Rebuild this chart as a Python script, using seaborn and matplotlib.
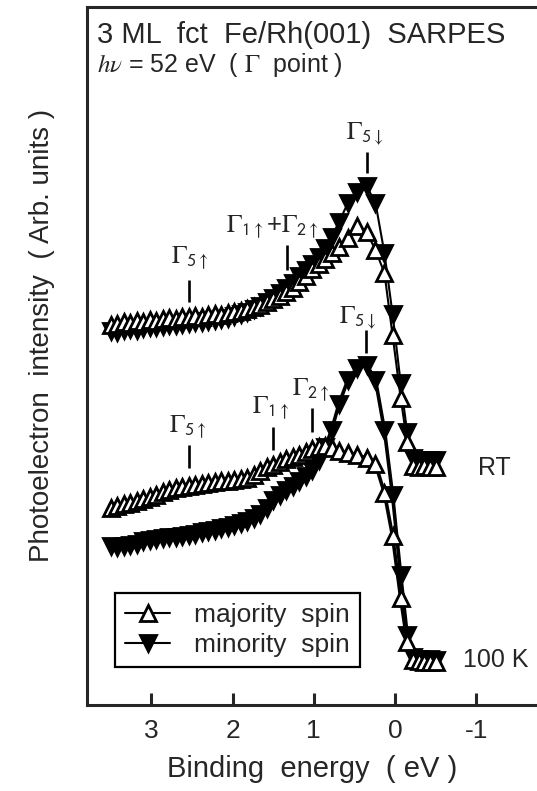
import matplotlib
matplotlib.use("Agg")
import matplotlib.pyplot as plt
from matplotlib.lines import Line2D
import seaborn as sns

sns.set_style("ticks")
plt.rcParams["font.family"] = ["Liberation Sans", "DejaVu Sans"]
plt.rcParams["mathtext.fontset"] = "stix"

# Binding energy grid (eV)
energy = [3.50, 3.42, 3.34, 3.26, 3.18, 3.10, 3.02, 2.94, 2.86, 2.78, 2.70, 2.62,
          2.54, 2.46, 2.38, 2.30, 2.22, 2.14, 2.06, 1.98, 1.90, 1.82, 1.74, 1.66,
          1.58, 1.50, 1.42, 1.34, 1.26, 1.18, 1.10, 1.02, 0.94, 0.86, 0.78, 0.69,
          0.58, 0.47, 0.35, 0.24, 0.13, 0.03, -0.07, -0.15, -0.22, -0.29, -0.36,
          -0.43, -0.50]

# Room-temperature spectra (offset upward)
rt_majority = [380, 381, 383, 382, 384, 383, 385, 384, 386, 387, 386, 388,
               388, 389, 388, 390, 391, 390, 392, 393, 394, 396, 398, 400,
               403, 406, 409, 413, 417, 423, 429, 436, 441, 446, 452, 458,
               467, 479, 473, 455, 432, 370, 307, 263, 239, 238, 239, 238, 238]
rt_minority = [374, 373, 375, 376, 375, 377, 378, 378, 379, 380, 380, 381,
               382, 383, 383, 384, 385, 386, 387, 389, 391, 393, 396, 399,
               403, 407, 412, 417, 422, 429, 435, 441, 448, 457, 468, 483,
               502, 513, 519, 502, 452, 391, 322, 273, 247, 245, 244, 245, 245]

# 100 K spectra
lt_majority = [197, 199, 201, 202, 204, 206, 208, 210, 213, 215, 217, 218,
               219, 220, 221, 222, 223, 224, 224, 225, 226, 227, 230, 234,
               238, 240, 243, 246, 248, 250, 253, 256, 258, 259, 257, 254,
               252, 250, 247, 241, 212, 169, 107, 63, 45, 44, 43, 43, 43]
lt_minority = [159, 158, 159, 160, 161, 164, 165, 166, 167, 168, 168, 169,
               170, 171, 173, 174, 175, 177, 178, 180, 182, 184, 187, 191,
               197, 205, 210, 215, 219, 224, 229, 235, 245, 258, 275, 301,
               325, 337, 340, 325, 275, 210, 130, 70, 48, 46, 45, 46, 45]

# Critical-point labels: (mathtext, energy of text start, text baseline)
labels = [
    (r"$\Gamma_{\mathsf{5\uparrow}}$", 2.76, 442),
    (r"$\Gamma_{\mathsf{1\uparrow}}$+$\Gamma_{\mathsf{2\uparrow}}$", 2.08, 473),
    (r"$\Gamma_{\mathsf{5\downarrow}}$", 0.60, 566),
    (r"$\Gamma_{\mathsf{5\downarrow}}$", 0.69, 382),
    (r"$\Gamma_{\mathsf{2\uparrow}}$", 1.27, 310),
    (r"$\Gamma_{\mathsf{1\uparrow}}$", 1.76, 292),
    (r"$\Gamma_{\mathsf{5\uparrow}}$", 2.78, 273),
]
# Vertical bars marking the critical points: (energy, bottom, top)
bars = [
    (2.54, 403, 425),
    (1.33, 435, 460),
    (0.345, 532, 553),
    (0.357, 352, 375),
    (1.02, 273, 297),
    (1.50, 255, 278),
    (2.54, 237, 260),
]

fig = plt.figure(figsize=(5.37, 7.91), dpi=100)
ax = fig.add_axes([87 / 537, 1 - 705 / 791, 450 / 537, 698 / 791])

ms = 11.5
mew = 2.0
common = dict(ax=ax, sort=False, legend=False, color="black",
              markersize=ms, markeredgewidth=mew, markeredgecolor="black")

# 100 K: minority first, majority drawn over it
sns.lineplot(x=energy, y=lt_minority, marker="v", markerfacecolor="black",
             linewidth=2.6, **common)
sns.lineplot(x=energy, y=lt_majority, marker="^", markerfacecolor="white",
             linewidth=2.6, **common)
# Room temperature
sns.lineplot(x=energy, y=rt_minority, marker="v", markerfacecolor="black",
             linewidth=1.5, **common)
sns.lineplot(x=energy, y=rt_majority, marker="^", markerfacecolor="white",
             linewidth=1.5, **common)

for e, y0, y1 in bars:
    ax.plot([e, e], [y0, y1], color="black", lw=1.9, solid_capstyle="butt")
for txt, e, y in labels:
    ax.text(e, y, txt, fontsize=18.5, ha="left", va="baseline")

ax.text(-1.02, 237, "RT", fontsize=18, ha="left", va="center")
ax.text(-0.84, 45, "100 K", fontsize=18, ha="left", va="center")

ax.text(0.022, 0.948, "3 ML  fct  Fe/Rh(001)  SARPES", transform=ax.transAxes,
        fontsize=21, ha="left", va="baseline")
ax.text(0.022, 0.907, r"$h\nu$ = 52 eV  ( $\Gamma$  point )", transform=ax.transAxes,
        fontsize=18, ha="left", va="baseline")

ax.set_xlim(3.793, -1.749)
ax.set_ylim(0, 698)
ax.set_xticks([3, 2, 1, 0, -1])
ax.set_xticklabels(["3", "2", "1", "0", "-1"])
ax.set_yticks([])
ax.tick_params(axis="x", direction="in", length=9, width=2.2, labelsize=19, pad=10)
for side in ["left", "top", "bottom"]:
    ax.spines[side].set_linewidth(2.2)
ax.spines["right"].set_visible(False)

ax.set_xlabel("Binding  energy  ( eV )", fontsize=21)
ax.set_ylabel("Photoelectron  intensity  ( Arb. units )", fontsize=20)
ax.yaxis.set_label_coords(-0.07, 0.53)
ax.xaxis.set_label_coords(0.5, -0.072)

handles = [
    Line2D([], [], color="black", lw=1.5, marker="^", markersize=ms,
           markerfacecolor="white", markeredgecolor="black", markeredgewidth=mew),
    Line2D([], [], color="black", lw=1.5, marker="v", markersize=ms,
           markerfacecolor="black", markeredgecolor="black", markeredgewidth=mew),
]
leg = ax.legend(handles, ["majority  spin", "minority  spin"], loc="lower left",
                bbox_to_anchor=(0.062, 0.054), borderaxespad=0, fontsize=19,
                frameon=True, fancybox=False, edgecolor="black", framealpha=1,
                handlelength=1.7, handletextpad=0.9, labelspacing=0.2,
                borderpad=0.4)
leg.get_frame().set_linewidth(1.6)

fig.savefig("out.png", dpi=100)
